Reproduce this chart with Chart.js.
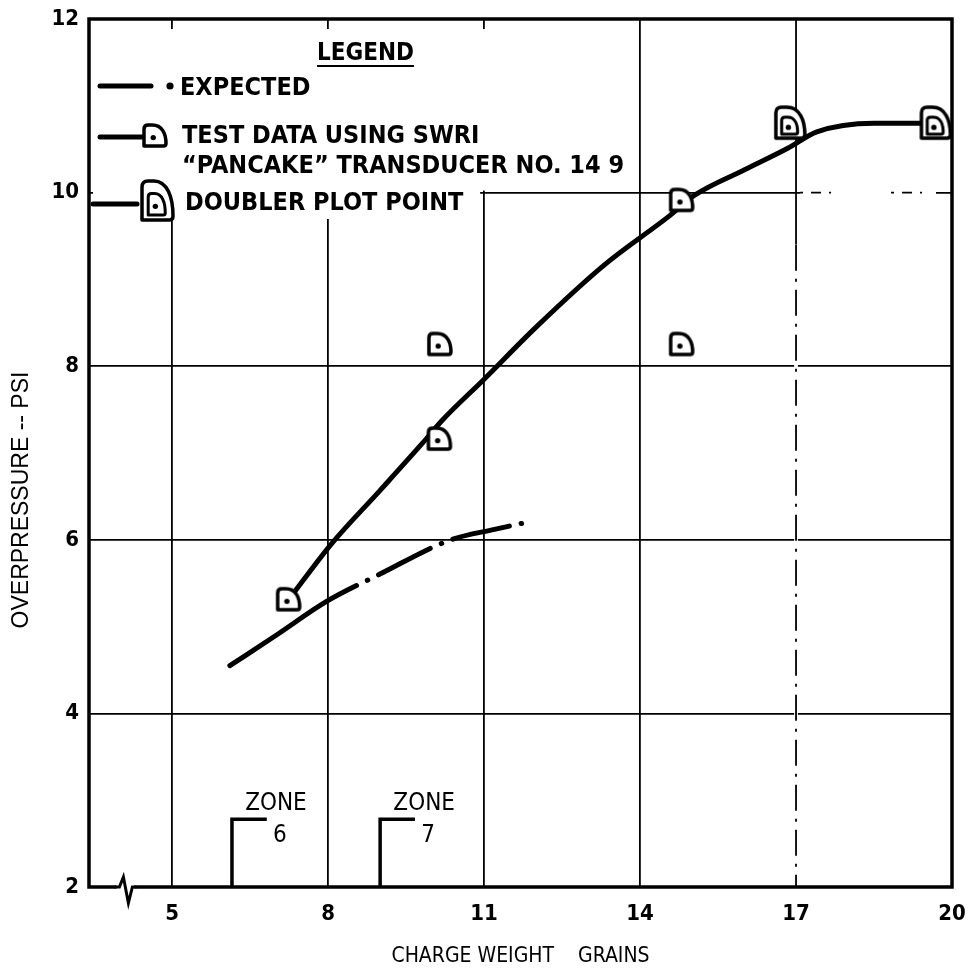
<!DOCTYPE html>
<html>
<head>
<meta charset="utf-8">
<script src="https://cdn.jsdelivr.net/npm/chart.js@4.4.1/dist/chart.umd.min.js"></script>
<style>
    html, body { margin: 0; padding: 0; background: #fff; }
    #wrap { width: 980px; height: 980px; }
</style>
</head>
<body>
<div id="wrap"><canvas id="chart" width="980" height="980"></canvas></div>
<script>
// Values
const xTicks = [5, 8, 11, 14, 17, 20];
const yTicks = [2, 4, 6, 8, 10, 12];

// Expected curve (dash-dot)
const expectedX = [6.11, 7.0, 7.97, 8.98, 10.36, 11.2, 12.2];
const expectedY = [4.55, 4.9, 5.29, 5.6, 6.0, 6.12, 6.25];

// Fitted curve through the test data (solid)
const testCurveX = [7.24, 8.06, 9.0, 9.81, 10.2, 11.0, 12.0, 13.32, 14.54, 15.05, 16.0, 16.84, 17.4, 18.5, 19.7];
const testCurveY = [5.31, 5.95, 6.57, 7.11, 7.38, 7.85, 8.45, 9.17, 9.72, 9.97, 10.26, 10.51, 10.7, 10.8, 10.8];

// Test data points (SwRI pancake transducer)
const testX = [7.24, 10.14, 14.8, 10.15, 14.8];
const testY = [5.31, 7.16, 9.91, 8.25, 8.25];

// Doubler plot points
const doublerX = [16.9, 19.7];
const doublerY = [10.8, 10.8];

// Zone markers on the charge weight axis
const zoneLabels = ['6', '7'];
const zoneX = [6.15, 9.0];
const zoneTop = 2.78;
const zoneArm = 0.67;

const FONT = '"Liberation Sans Narrow", "DejaVu Sans Condensed", "Arial Narrow", "Liberation Sans", sans-serif';

// D-shaped marker path
function dShape(c, x, y, w, h) {
    const r = Math.min(w, h) * 0.2;
    c.beginPath();
    c.moveTo(x, y + h);
    c.lineTo(x, y + r);
    c.quadraticCurveTo(x, y, x + r, y);
    c.lineTo(x + w * 0.38, y);
    c.bezierCurveTo(x + w * 0.82, y, x + w, y + h * 0.42, x + w, y + h - r * 0.6);
    c.quadraticCurveTo(x + w, y + h, x + w - r * 0.6, y + h);
    c.closePath();
}

function makeTestMarker() {
    const cv = document.createElement('canvas');
    cv.width = 30; cv.height = 30;
    const c = cv.getContext('2d');
    c.lineWidth = 3.5;
    c.lineJoin = 'round';
    dShape(c, 4, 4, 22, 21);
    c.fillStyle = '#fff'; c.fill();
    c.strokeStyle = '#000'; c.stroke();
    c.beginPath();
    c.arc(4 + 22 * 0.42, 4 + 21 * 0.6, 2.7, 0, Math.PI * 2);
    c.fillStyle = '#000'; c.fill();
    return cv;
}

function makeDoublerMarker(w, h) {
    const cv = document.createElement('canvas');
    cv.width = w; cv.height = h;
    const c = cv.getContext('2d');
    c.lineJoin = 'round';
    c.lineWidth = 3.5;
    dShape(c, 3, 3, w - 7, h - 7);
    c.fillStyle = '#fff'; c.fill();
    c.strokeStyle = '#000'; c.stroke();
    c.lineWidth = 3;
    const iw = (w - 7) * 0.55, ih = (h - 7) * 0.55;
    dShape(c, 3 + (w - 7) * 0.2, 3 + (h - 7) * 0.32, iw, ih);
    c.stroke();
    c.beginPath();
    c.arc(3 + (w - 7) * 0.2 + iw * 0.42, 3 + (h - 7) * 0.32 + ih * 0.6, 2.7, 0, Math.PI * 2);
    c.fillStyle = '#000'; c.fill();
    return cv;
}

const testMarker = makeTestMarker();
const doublerMarker = makeDoublerMarker(36, 38);
const legendDoubler = makeDoublerMarker(38, 46);

const toPoints = (xs, ys) => xs.map((x, i) => ({ x: x, y: ys[i] }));

const zoneDatasets = zoneX.map(zx => ({
    data: [{ x: zx, y: 2 }, { x: zx, y: zoneTop }, { x: zx + zoneArm, y: zoneTop }],
    showLine: true,
    borderColor: '#000',
    borderWidth: 3.5,
    pointRadius: 0,
    order: 5
}));

function dashed(c, x1, y1, x2, y2, pattern, width) {
    c.save();
    c.strokeStyle = '#fff';
    c.lineWidth = width + 2;
    c.beginPath(); c.moveTo(x1, y1); c.lineTo(x2, y2); c.stroke();
    c.strokeStyle = '#000';
    c.lineWidth = width;
    c.setLineDash(pattern);
    c.beginPath(); c.moveTo(x1, y1); c.lineTo(x2, y2); c.stroke();
    c.restore();
}

// Legend box, frame, partly dashed grid lines, axis break
const decorPlugin = {
    id: 'decor',
    beforeDatasetsDraw(chart) {
        const c = chart.ctx;
        const a = chart.chartArea;
        const xs = chart.scales.x, ys = chart.scales.y;
        const x11 = xs.getPixelForValue(11), x17 = xs.getPixelForValue(17), x20 = xs.getPixelForValue(20);
        const y10 = ys.getPixelForValue(10);
        c.save();
        // grid line 17 partly dash-dot, grid line 10 dotted beyond 17
        c.strokeStyle = '#000';
        c.lineWidth = 1.8;
        c.beginPath();
        c.moveTo(x17, a.top); c.lineTo(x17, ys.getPixelForValue(9.4)); c.stroke();
        dashed(c, x17, ys.getPixelForValue(9.4), x17, a.bottom, [26, 8, 3, 8], 1.8);
        dashed(c, x17 + 4, y10, x20 - 16, y10, [3, 8, 10, 8, 2, 60], 1.8);
        // white legend box over the grid
        c.fillStyle = '#fff';
        c.fillRect(a.left + 4, a.top + 10, x11 - 4 - a.left - 4, 190);
        c.fillRect(x11 - 4, a.top + 10, 10, y10 - a.top - 12);
        // frame
        c.strokeStyle = '#000';
        c.lineWidth = 3.5;
        c.strokeRect(a.left, a.top, a.right - a.left, a.bottom - a.top);
        // axis break on the x axis
        const bx = xs.getPixelForValue(4.1);
        const by = a.bottom;
        c.fillStyle = '#fff';
        c.fillRect(bx - 9, by - 3, 18, 6);
        c.lineWidth = 3;
        c.lineJoin = 'miter';
        c.beginPath();
        c.moveTo(bx - 11, by);
        c.lineTo(bx - 6, by);
        c.lineTo(bx - 2, by - 10);
        c.lineTo(bx + 3, by + 16);
        c.lineTo(bx + 7, by);
        c.lineTo(bx + 11, by);
        c.stroke();
        c.restore();
    },
    afterDatasetsDraw(chart) {
        const c = chart.ctx;
        const a = chart.chartArea;
        const xs = chart.scales.x, ys = chart.scales.y;
        const L = a.left - 84, T = a.top - 15;   // offsets relative to the frame corner
        c.save();
        c.fillStyle = '#000';
        c.strokeStyle = '#000';
        c.textBaseline = 'middle';
        c.textAlign = 'left';

        // LEGEND title
        c.font = 'bold 24px ' + FONT;
        c.fillText('LEGEND', L + 312, T + 50);
        const lw = c.measureText('LEGEND').width;
        c.lineWidth = 2;
        c.beginPath(); c.moveTo(L + 312, T + 62); c.lineTo(L + 312 + lw, T + 62); c.stroke();

        c.font = 'bold 25px ' + FONT;
        // row 1: expected
        c.lineWidth = 5;
        c.lineCap = 'round';
        c.beginPath(); c.moveTo(L + 95, T + 82); c.lineTo(L + 146, T + 82); c.stroke();
        c.beginPath(); c.arc(L + 165, T + 82, 3.6, 0, Math.PI * 2); c.fill();
        c.fillText('EXPECTED', L + 175, T + 84);
        // row 2: test data
        c.beginPath(); c.moveTo(L + 95, T + 133); c.lineTo(L + 138, T + 133); c.stroke();
        c.drawImage(testMarker, L + 150 - 15, T + 132 - 15);
        c.fillText('TEST DATA USING SWRI', L + 177, T + 132);
        c.fillText('\u201CPANCAKE\u201D TRANSDUCER NO. 14 9', L + 177, T + 162);
        // row 3: doubler
        c.beginPath(); c.moveTo(L + 88, T + 200); c.lineTo(L + 132, T + 200); c.stroke();
        c.drawImage(legendDoubler, L + 153 - 19, T + 197 - 23);
        c.fillText('DOUBLER PLOT POINT', L + 180, T + 199);

        // zone labels
        c.font = '24px ' + FONT;
        c.textAlign = 'center';
        const yt = ys.getPixelForValue(zoneTop);
        zoneX.forEach((zx, i) => {
            const px = xs.getPixelForValue(zx);
            c.fillText('ZONE', px + 44, yt - 16);
            c.fillText(zoneLabels[i], px + 48, yt + 16);
        });

        // y axis title
        c.font = '23px "Liberation Sans", Arial, sans-serif';
        c.translate(22, 500);
        c.rotate(-Math.PI / 2);
        c.fillText('OVERPRESSURE -- PSI', 0, 0);
        c.restore();
    }
};

const ctx = document.getElementById('chart');
const chart = new Chart(ctx, {
    type: 'scatter',
    data: {
        datasets: [
            {
                label: 'Test data',
                data: toPoints(testX, testY),
                pointStyle: testMarker,
                pointRadius: 12,
                showLine: false,
                order: 0
            },
            {
                label: 'Doubler plot point',
                data: toPoints(doublerX, doublerY),
                pointStyle: doublerMarker,
                pointRadius: 18,
                showLine: false,
                order: 0
            },
            {
                label: 'Test data curve',
                data: toPoints(testCurveX, testCurveY),
                showLine: true,
                borderColor: '#000',
                borderWidth: 5,
                borderCapStyle: 'round',
                cubicInterpolationMode: 'monotone',
                pointRadius: 0,
                order: 4
            },
            {
                label: 'Expected',
                data: toPoints(expectedX, expectedY),
                showLine: true,
                borderColor: '#000',
                borderWidth: 5,
                borderCapStyle: 'round',
                borderDash: [150, 12, 0.5, 12, 58, 12, 0.5, 12, 58, 12, 0.5, 120],
                cubicInterpolationMode: 'monotone',
                pointRadius: 0,
                order: 4
            },
            ...zoneDatasets
        ]
    },
    options: {
        responsive: false,
        animation: false,
        devicePixelRatio: 1,
        layout: { padding: { left: 0, right: 28, top: 15, bottom: 0 } },
        plugins: {
            legend: { display: false },
            tooltip: { enabled: false }
        },
        scales: {
            x: {
                type: 'linear',
                min: 3.4,
                max: 20,
                afterBuildTicks: (scale) => { scale.ticks = xTicks.map(v => ({ value: v })); },
                afterFit: (scale) => { scale.height = 93; },
                grid: {
                    color: (c) => (c.tick && c.tick.value === 17) ? 'rgba(0,0,0,0)' : '#000',
                    lineWidth: 1.8,
                    drawTicks: false
                },
                border: { display: false },
                ticks: {
                    color: '#000',
                    padding: 14,
                    font: { family: FONT, size: 22, weight: 'bold' }
                },
                title: {
                    display: true,
                    text: 'CHARGE WEIGHT    GRAINS',
                    color: '#000',
                    padding: { top: 0, bottom: 11 },
                    font: { family: FONT, size: 21 }
                }
            },
            y: {
                type: 'linear',
                min: 2,
                max: 12,
                afterBuildTicks: (scale) => { scale.ticks = yTicks.map(v => ({ value: v })); },
                afterFit: (scale) => {
                    scale.width = 89;
                    scale.paddingTop = 0;
                    scale.paddingBottom = 0;
                },
                grid: {
                    color: '#000',
                    lineWidth: 1.8,
                    drawTicks: false
                },
                border: { display: false },
                ticks: {
                    color: '#000',
                    padding: 10,
                    font: { family: FONT, size: 22, weight: 'bold' }
                }
            }
        }
    },
    plugins: [decorPlugin]
});
</script>
</body>
</html>
